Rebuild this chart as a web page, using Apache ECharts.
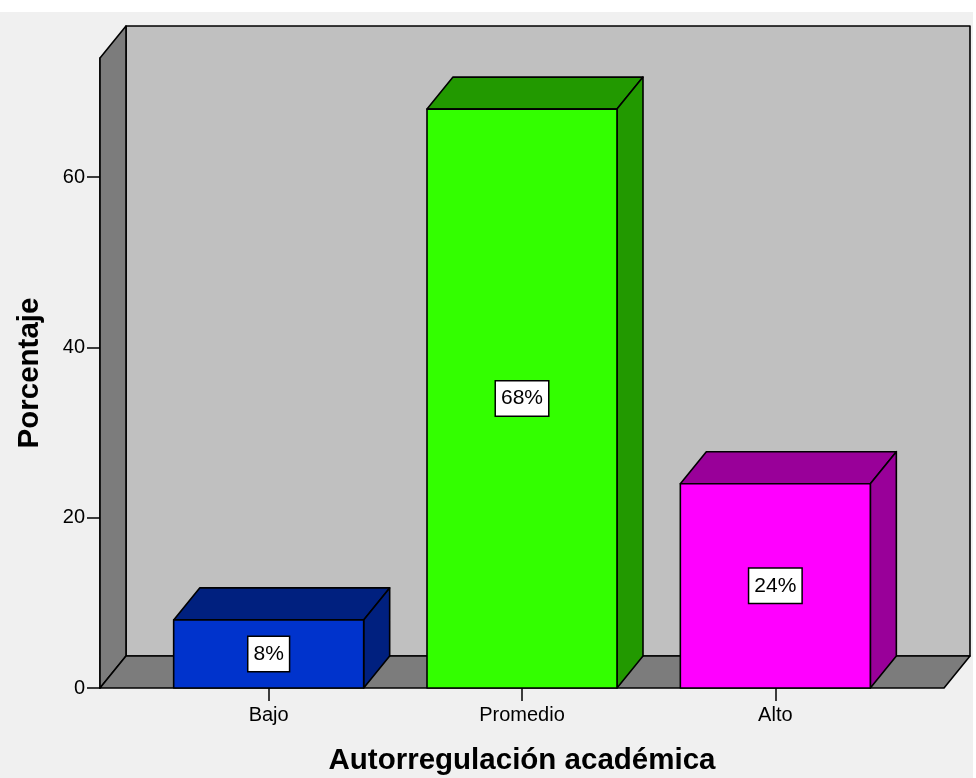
<!DOCTYPE html>
<html>
<head>
<meta charset="utf-8">
<script src="https://cdn.jsdelivr.net/npm/echarts@6/dist/echarts.min.js"></script>
<style>html,body{margin:0;padding:0;background:#fff;}#c{width:976px;height:778px;}</style>
</head>
<body>
<div id="c"></div>
<script>
var categories = ['Bajo', 'Promedio', 'Alto'];
var percentages = [8, 68, 24];
var valueLabels = ['8%', '68%', '24%'];
var yTicks = [0, 20, 40, 60];
var frontColors = ['#0033cc', '#33ff00', '#ff00ff'];
var sideColors = ['#00207f', '#229900', '#990099'];

var DX = 26, DY = -32, SIDE = 42;
var FONT = '"Liberation Sans", Arial, sans-serif';

var chart = echarts.init(document.getElementById('c'), null, {renderer: 'canvas'});

function renderFrame(params, api) {
  var cs = params.coordSys;
  var x0 = cs.x - SIDE, x1 = cs.x + cs.width + SIDE;
  var yb = cs.y + cs.height, yt = cs.y;
  var st = {stroke: '#000', lineWidth: 1.6, lineJoin: 'round'};
  return {
    type: 'group',
    children: [
      {type: 'polygon', shape: {points: [[x0 + DX, yt + DY], [x1 + DX, yt + DY], [x1 + DX, yb + DY], [x0 + DX, yb + DY]]},
       style: Object.assign({fill: '#c0c0c0'}, st)},
      {type: 'polygon', shape: {points: [[x0, yb], [x0, yt], [x0 + DX, yt + DY], [x0 + DX, yb + DY]]},
       style: Object.assign({fill: '#7c7c7c'}, st)},
      {type: 'polygon', shape: {points: [[x0, yb], [x1, yb], [x1 + DX, yb + DY], [x0 + DX, yb + DY]]},
       style: Object.assign({fill: '#7c7c7c'}, st)}
    ]
  };
}

function renderBar(params, api) {
  var idx = params.dataIndex;
  var top = api.coord([api.value(0), api.value(1)]);
  var base = api.coord([api.value(0), 0]);
  var band = api.size([1, 0])[0];
  var w = band * 0.75;
  var xl = top[0] - w / 2, xr = top[0] + w / 2;
  var yt = top[1], yb = base[1];
  var st = {stroke: '#000', lineWidth: 1.6, lineJoin: 'round'};
  return {
    type: 'group',
    children: [
      {type: 'polygon', shape: {points: [[xl, yt], [xr, yt], [xr + DX, yt + DY], [xl + DX, yt + DY]]},
       style: Object.assign({fill: sideColors[idx]}, st)},
      {type: 'polygon', shape: {points: [[xr, yt], [xr + DX, yt + DY], [xr + DX, yb + DY], [xr, yb]]},
       style: Object.assign({fill: sideColors[idx]}, st)},
      {type: 'rect', shape: {x: xl, y: yt, width: w, height: yb - yt},
       style: Object.assign({fill: frontColors[idx]}, st)},
      {type: 'text', x: top[0], y: (yt + yb) / 2,
       style: {text: valueLabels[idx], fill: '#000', font: '21px ' + FONT, align: 'center', verticalAlign: 'middle',
               backgroundColor: '#fff', borderColor: '#000', borderWidth: 1.5, padding: [7, 5, 6, 5]}}
    ]
  };
}

var option = {
  animation: false,
  backgroundColor: '#fff',
  graphic: [{type: 'rect', z: -10, shape: {x: 0, y: 12, width: 973, height: 766}, style: {fill: '#f0f0f0'}}],
  grid: {left: 142, right: 74, top: 58, bottom: 90, containLabel: false, outerBoundsMode: 'none'},
  xAxis: {
    type: 'category', data: categories,
    axisLine: {show: false},
    axisTick: {show: true, alignWithLabel: true, length: 13, lineStyle: {color: '#000', width: 1.5}},
    axisLabel: {color: '#000', fontSize: 20, fontFamily: FONT, margin: 17},
    splitLine: {show: false},
    name: 'Autorregulación académica', nameLocation: 'middle', nameGap: 58,
    nameTextStyle: {color: '#000', fontSize: 29.5, fontWeight: 'bold', fontFamily: FONT}
  },
  yAxis: {
    type: 'value', min: 0, max: 74, interval: 20, offset: SIDE,
    axisLine: {show: true, lineStyle: {color: '#000', width: 1.5}},
    axisTick: {show: true, length: 13, customValues: yTicks, lineStyle: {color: '#000', width: 1.5}},
    axisLabel: {color: '#000', fontSize: 20, fontFamily: FONT, margin: 15, customValues: yTicks},
    splitLine: {show: false},
    name: 'Porcentaje', nameLocation: 'middle', nameGap: 55, nameRotate: 90,
    nameTextStyle: {color: '#000', fontSize: 29.5, fontWeight: 'bold', fontFamily: FONT}
  },
  series: [
    {type: 'custom', renderItem: renderFrame, data: [[0, 0]], z: 1, silent: true},
    {type: 'custom', renderItem: renderBar, z: 2,
     data: categories.map(function (c, i) { return [i, percentages[i]]; })}
  ]
};
chart.setOption(option);
</script>
</body>
</html>
